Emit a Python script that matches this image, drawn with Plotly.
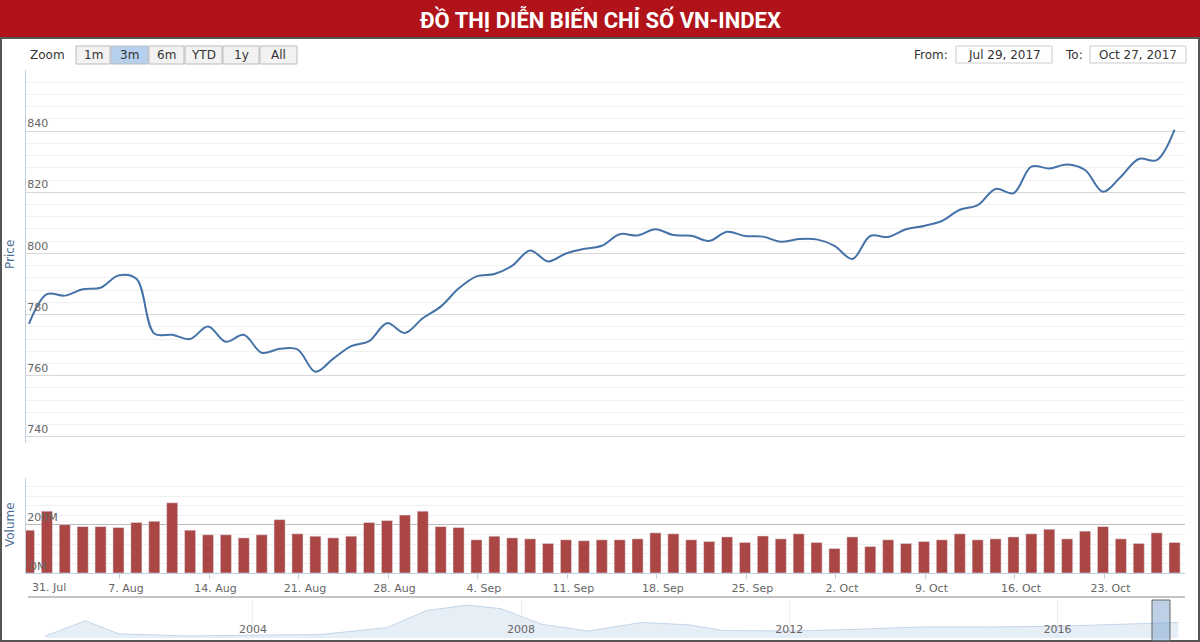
import pandas as pd
import plotly.graph_objects as go

# trading days shown in the 3m window
dates = pd.bdate_range("2017-07-31", "2017-10-27")

price = [777.0, 786.7, 786.2, 788.3, 788.8, 792.8, 791.7, 773.8, 773.4, 772.0,
         776.1, 771.1, 773.4, 767.5, 768.8, 768.6, 761.3, 765.6, 769.7, 771.3,
         777.2, 774.0, 778.8, 782.6, 788.5, 792.5, 793.3, 796.0, 801.0, 797.4,
         800.0, 801.5, 802.5, 806.3, 805.9, 807.9, 806.0, 805.8, 804.1, 807.1,
         805.7, 805.5, 803.8, 804.7, 804.6, 802.5, 798.2, 805.7, 805.4, 807.9,
         809.0, 810.6, 814.3, 815.8, 821.1, 819.7, 828.4, 827.8, 829.1, 827.3,
         820.2, 825.1, 830.9, 830.5, 840.5]

volume = [178, 257, 201, 193, 193, 189, 210, 215, 292, 178,
          159, 159, 146, 159, 222, 163, 153, 146, 153, 210,
          218, 241, 257, 193, 189, 138, 153, 146, 142, 123,
          138, 134, 138, 138, 142, 167, 163, 138, 131, 150,
          127, 154, 142, 163, 127, 102, 150, 110, 138, 123,
          131, 138, 163, 138, 142, 150, 163, 182, 142, 174,
          193, 142, 123, 167, 127]

# navigator: rough long-run history
nav_years = [2000.9, 2001.5, 2002, 2003, 2004, 2005, 2006, 2006.6, 2007.2, 2007.7,
             2008.3, 2009, 2009.8, 2010.5, 2011, 2012, 2013, 2014, 2015, 2016, 2017.8]
nav_vals = [5, 50, 12, 6, 8, 10, 30, 80, 95, 85, 40, 20, 45, 38, 22, 20, 25, 32, 32, 34, 45]

W, H = 1200, 642
def ydom(top, bottom):
    return [1 - bottom / H, 1 - top / H]
xdom = [26 / W, 1185 / W]

grid = "#d8d8d8"
minor_grid = "#f0f0f0"
blue = "#4572a7"
label_col = "#666666"

fig = go.Figure()
fig.add_trace(go.Scatter(x=dates, y=price, mode="lines", line=dict(color=blue, width=2, shape="spline"),
                         xaxis="x", yaxis="y", showlegend=False))
fig.add_trace(go.Bar(x=dates, y=volume, marker_color="#aa4643", width=0.62 * 86400000,
                     xaxis="x2", yaxis="y2", showlegend=False))
fig.add_trace(go.Scatter(x=nav_years, y=nav_vals, mode="lines", fill="tozeroy",
                         line=dict(color="#c5d6ea", width=1), fillcolor="rgba(214,226,240,0.6)",
                         xaxis="x3", yaxis="y3", showlegend=False))

xr = ["2017-07-28 20:00", "2017-10-27 14:00"]
rb = [dict(bounds=["sat", "mon"])]
mondays = pd.date_range("2017-07-31 02:00", "2017-10-23 02:00", freq="7D")

fig.update_layout(
    width=W, height=H, margin=dict(l=0, r=0, t=0, b=0, pad=0, autoexpand=False),
    paper_bgcolor="white", plot_bgcolor="white",
    font=dict(family="DejaVu Sans", size=11, color=label_col),
    xaxis=dict(domain=xdom, anchor="y", range=xr, rangebreaks=rb, showticklabels=False,
               showgrid=False, zeroline=False, automargin=False),
    yaxis=dict(domain=ydom(70, 443), range=[738, 860], dtick=20, tick0=740, automargin=False,
               ticklabelposition="inside top", gridcolor=grid, zeroline=False,
               minor=dict(dtick=4, showgrid=True, gridcolor=minor_grid),
               tickfont=dict(size=11, color=label_col), showline=True, linecolor="#c0d0e0"),
    xaxis2=dict(domain=xdom, anchor="y2", range=xr, rangebreaks=rb, tickvals=mondays, automargin=False,
                tickformat="%-d. %b", ticks="outside", ticklen=5, tickcolor="#c0d0e0",
                ticklabelshift=6,
                showgrid=False, showline=True, linecolor="#c0d0e0", zeroline=False,
                tickfont=dict(size=11, color=label_col)),
    yaxis2=dict(domain=ydom(478, 573), range=[0, 395], tickvals=[200], ticktext=["200M"],
                ticklabelposition="inside top", gridcolor="#bbbbbb", zeroline=False, automargin=False,
                minor=dict(dtick=40, showgrid=True, gridcolor=minor_grid),
                tickfont=dict(size=11, color=label_col), showline=True, linecolor="#c0d0e0"),
    xaxis3=dict(domain=[45 / W, 1185 / W], anchor="y3", range=[2000.9, 2017.9], automargin=False,
                tickvals=[2004, 2008, 2012, 2016], ticktext=["2004", "2008", "2012", "2016"],
                ticklabelposition="inside", showgrid=True, gridcolor="#eeeeee", zeroline=False,
                tickfont=dict(size=11, color=label_col)),
    yaxis3=dict(domain=ydom(600, 638), range=[0, 110], visible=False),
    bargap=0.3,
)

shapes = [
    dict(type="rect", xref="paper", yref="paper", x0=0, x1=1, y0=1 - 38 / H, y1=1,
         fillcolor="#b01319", line=dict(width=0), layer="below"),
    dict(type="rect", xref="paper", yref="paper", x0=1 / W, x1=1 - 1 / W, y0=1 / H, y1=1 - 38 / H,
         line=dict(color="#555555", width=2), fillcolor="rgba(0,0,0,0)"),
    dict(type="line", xref="paper", yref="paper", x0=28 / W, x1=1185 / W, y0=1 - 597 / H, y1=1 - 597 / H,
         line=dict(color="#888888", width=1)),
    dict(type="rect", xref="paper", yref="paper", x0=1152 / W, x1=1170 / W, y0=1 / H, y1=1 - 600 / H,
         fillcolor="rgba(110,150,200,0.45)", line=dict(color="#666666", width=1)),
]

def note(text, x, y, size=12, color="#333333", xanchor="center", **kw):
    return dict(text=text, xref="paper", yref="paper", x=x / W, y=1 - y / H, showarrow=False,
                xanchor=xanchor, yanchor="middle", font=dict(size=size, color=color), **kw)

annotations = [
    dict(text="<b>ĐỒ THỊ DIỄN BIẾN CHỈ SỐ VN-INDEX</b>", xref="paper", yref="paper", x=0.5, y=1 - 19 / H,
         xanchor="center", yanchor="middle", showarrow=False,
         font=dict(family="Liberation Sans Narrow, Roboto", size=22, color="white")),
    note("Price", 10, 255, color="#4d6f98", textangle=-90),
    note("Volume", 10, 525, color="#4d6f98", textangle=-90),
    note("0M", 28, 566, size=11, color=label_col, xanchor="left"),
    note("31. Jul", 30, 587, size=11, color=label_col, xanchor="left"),
    note("Zoom", 28, 55, xanchor="left"),
    note("From:", 950, 55, xanchor="right"),
    note("To:", 1085, 55, xanchor="right"),
]
buttons = [("1m", 76, 110), ("3m", 111, 148), ("6m", 149, 184), ("YTD", 185, 222), ("1y", 223, 259), ("All", 260, 297)]
for lbl, a, b in buttons:
    shapes.append(dict(type="rect", xref="paper", yref="paper", x0=a / W, x1=b / W, y0=1 - 64 / H, y1=1 - 46 / H,
                       fillcolor="#b6d0ee" if lbl == "3m" else "#f2f2f2", line=dict(color="#bbbbbb", width=1)))
    annotations.append(note(lbl, (a + b) / 2, 55))
for lbl, a, b in [("Jul 29, 2017", 956, 1052), ("Oct 27, 2017", 1090, 1186)]:
    shapes.append(dict(type="rect", xref="paper", yref="paper", x0=a / W, x1=b / W, y0=1 - 63 / H, y1=1 - 46 / H,
                       fillcolor="white", line=dict(color="#cccccc", width=1)))
    annotations.append(note(lbl, (a + b) / 2, 55))
fig.update_layout(shapes=shapes, annotations=annotations)

fig.write_html("out.html", config={"displayModeBar": False},
               post_script="document.body.style.margin='0';")
